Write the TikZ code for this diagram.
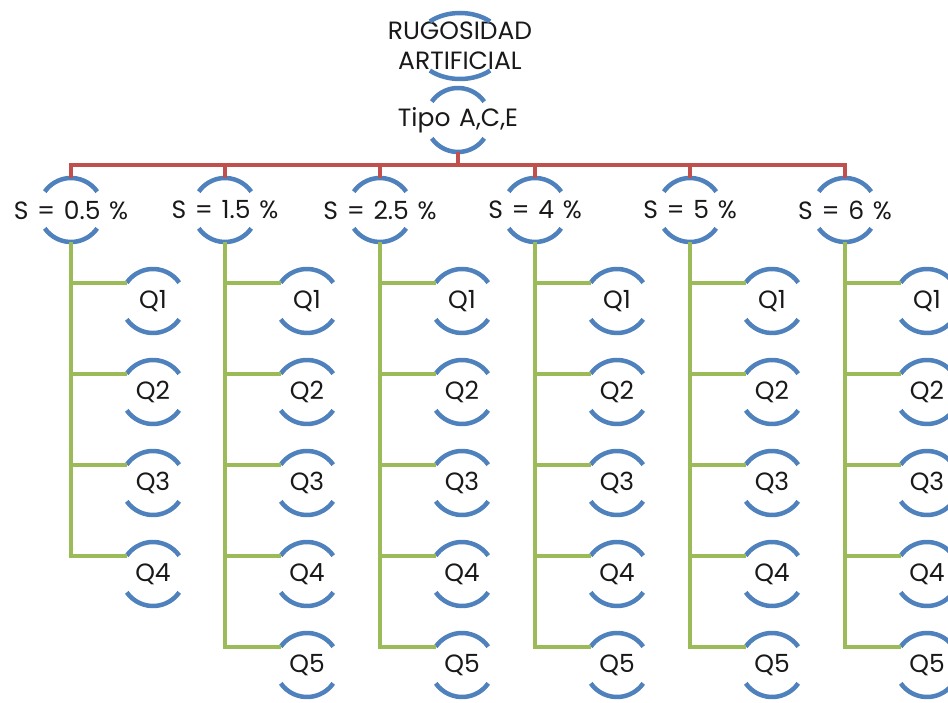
\documentclass[tikz,border=0pt]{standalone}
\usepackage{fontspec}
\setmainfont{Poppins}[WordSpace={1.3}]
\usetikzlibrary{calc,shapes.geometric}
\definecolor{arcblue}{HTML}{4F81BD}
\definecolor{busred}{HTML}{C0504D}
\definecolor{leafgreen}{HTML}{9BBB59}
\tikzset{
  rnode/.style={circle, minimum size=64pt, inner sep=0pt, outer sep=0pt},
  txt/.style={font=\fontsize{25}{30}\selectfont, text=black!90, align=center},
  arcline/.style={draw=arcblue, line width=4.5pt},
  redline/.style={draw=busred, line width=4.5pt},
  greenline/.style={draw=leafgreen, line width=4pt},
}
\newcommand\ringnode[4]{%
  \node[rnode] (#1) at (#2,#3) {};
  \node[txt] (#1t) at (#1.center) {#4};
  \draw[arcline] ([shift={(35:32pt)}]#1.center) arc[start angle=35,end angle=145,radius=32pt];
  \draw[arcline] ([shift={(215:32pt)}]#1.center) arc[start angle=215,end angle=325,radius=32pt];
}
\begin{document}
\begin{tikzpicture}[x=1pt,y=1pt]
\useasboundingbox (0,0) rectangle (948,702);
% top node
\node[ellipse, minimum width=90pt, minimum height=66pt, inner sep=0pt] (top) at (460,656) {};
\node[txt] (topt) at (top.center) {RUGOSIDAD\\ARTIFICIAL};
\draw[arcline] ([shift={(48:45pt and 33pt)}]top.center) arc[start angle=48,end angle=132,x radius=45pt,y radius=33pt];
\draw[arcline] ([shift={(228:45pt and 33pt)}]top.center) arc[start angle=228,end angle=312,x radius=45pt,y radius=33pt];
% tipo
\ringnode{tipo}{458}{582}{Tipo A,C,E}
% S nodes
\ringnode{s1}{71}{492}{S = 0.5 \%}
\ringnode{s2}{225}{492}{S = 1.5 \%}
\ringnode{s3}{380}{492}{S = 2.5 \%}
\ringnode{s4}{535}{492}{S = 4 \%}
\ringnode{s5}{690}{492}{S = 5 \%}
\ringnode{s6}{845}{492}{S = 6 \%}
% red bus
\coordinate (bus) at (458,537);
\draw[redline] (tipo.south) -- (bus);
\foreach \i in {1,...,6}{
  \draw[redline] (s\i.north) |- (bus);
}
% Q nodes
\foreach \i/\x in {1/71,2/225,3/380,4/535,5/690,6/845}{
  \foreach \j/\y in {1/401,2/310,3/219,4/128}{
    \ringnode{q\i\j}{\x+82}{\y}{Q\j}
    \draw[greenline] (s\i.south) |- (q\i\j.145);
  }
}
\foreach \i/\x in {2/225,3/380,4/535,5/690,6/845}{
  \ringnode{q\i5}{\x+82}{37}{Q5}
  \draw[greenline] (s\i.south) |- (q\i5.145);
}
\end{tikzpicture}
\end{document}
